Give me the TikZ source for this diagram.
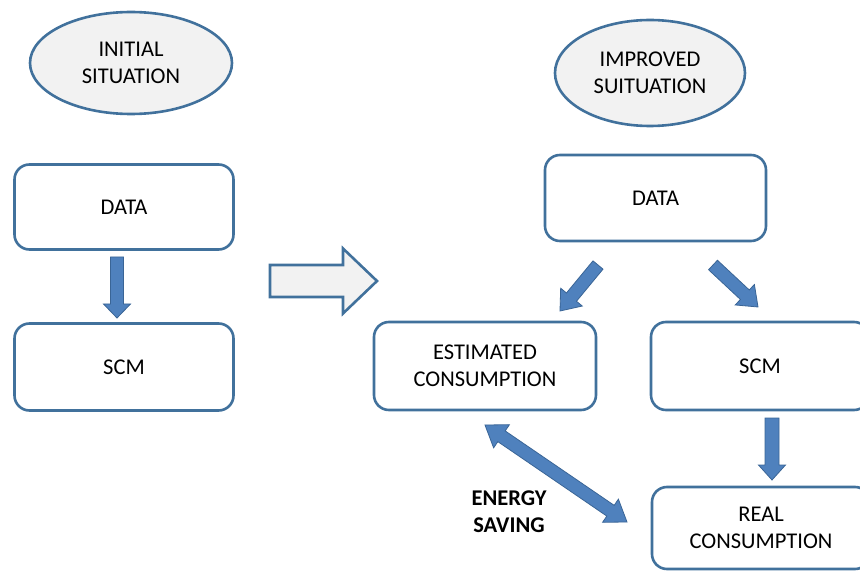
\documentclass[tikz,border=0pt]{standalone}
\usepackage{fontspec}
\setmainfont{Carlito}
\usetikzlibrary{calc,shapes.geometric}
\definecolor{boxline}{HTML}{41719C}
\definecolor{arrfill}{HTML}{4F81BD}
\definecolor{arrline}{HTML}{3A6596}
\definecolor{lightfill}{HTML}{F2F2F2}
\tikzset{
  txt/.style={font=\fontsize{22.5}{27}\selectfont, align=center, text=black},
  roundbox/.style={draw=boxline, line width=2.6pt, rounded corners=15pt, fill=white, txt},
  oval/.style={ellipse, draw=boxline, line width=2.6pt, fill=lightfill, txt, inner sep=0pt},
  blockarrow/.style={fill=arrfill, draw=arrline, line width=0.8pt, line join=miter},
  hollowarrow/.style={fill=lightfill, draw=boxline, line width=2.6pt, line join=miter}
}
% single block arrow: from, to, shaft half width, head half width, head length, style
\newcommand{\blockarr}[6]{%
  \coordinate (hb) at ($(#2)!#5!(#1)$);
  \path[#6] ($(#1)!#3!90:(#2)$) -- ($(hb)!#3!90:(#2)$) -- ($(hb)!#4!90:(#2)$) -- (#2)
    -- ($(hb)!#4!-90:(#2)$) -- ($(hb)!#3!-90:(#2)$) -- ($(#1)!#3!-90:(#2)$) -- cycle;}
% double block arrow
\newcommand{\dblockarr}[6]{%
  \coordinate (ha) at ($(#1)!#5!(#2)$);
  \coordinate (hb) at ($(#2)!#5!(#1)$);
  \path[#6] (#1) -- ($(ha)!#4!90:(#2)$) -- ($(ha)!#3!90:(#2)$) -- ($(hb)!#3!90:(#2)$)
    -- ($(hb)!#4!90:(#2)$) -- (#2) -- ($(hb)!#4!-90:(#2)$) -- ($(hb)!#3!-90:(#2)$)
    -- ($(ha)!#3!-90:(#2)$) -- ($(ha)!#4!-90:(#2)$) -- cycle;}
\begin{document}
\begin{tikzpicture}[x=1pt,y=-1pt]
\useasboundingbox (0,0) rectangle (860,572);
% ovals
\node[oval, minimum width=202pt, minimum height=102pt] (init) at (131,63) {INITIAL\\SITUATION};
\node[oval, minimum width=190pt, minimum height=106pt] (impr) at (650,73) {IMPROVED\\SUITUATION};
% left column
\node[roundbox, minimum width=219pt, minimum height=85pt] (dataL) at (124,207) {DATA};
\node[roundbox, minimum width=219pt, minimum height=87pt] (scmL) at (124,367) {SCM};
% right part
\node[roundbox, minimum width=221pt, minimum height=86pt] (dataR) at (655.5,198) {DATA};
\node[roundbox, minimum width=222pt, minimum height=88pt] (est) at (485,366) {ESTIMATED\\CONSUMPTION};
\node[roundbox, minimum width=218pt, minimum height=88pt] (scmR) at (760,366) {SCM};
\node[roundbox, minimum width=218pt, minimum height=82pt] (real) at (761,528) {REAL\\CONSUMPTION};
\node[txt, font=\fontsize{22.5}{27}\selectfont\bfseries] (energy) at (509,512) {ENERGY\\SAVING};
% arrow end points
\coordinate (a1s) at (117,257);
\coordinate (a1e) at (117,318);
\coordinate (bigs) at (270,281);
\coordinate (bige) at (377,281);
\coordinate (a2s) at (598,265);
\coordinate (a2e) at (560,311);
\coordinate (a3s) at (713,265);
\coordinate (a3e) at (758,307);
\coordinate (a4s) at (772,418);
\coordinate (a4e) at (772,480);
\coordinate (d1) at (485,425);
\coordinate (d2) at (627,522);
% arrows
\blockarr{a1s}{a1e}{6.5pt}{13.5pt}{14pt}{blockarrow}
\blockarr{bigs}{bige}{16pt}{32.5pt}{34pt}{hollowarrow}
\blockarr{a2s}{a2e}{6.5pt}{14pt}{18pt}{blockarrow}
\blockarr{a3s}{a3e}{6.5pt}{14pt}{18pt}{blockarrow}
\blockarr{a4s}{a4e}{7pt}{13.5pt}{15pt}{blockarrow}
\dblockarr{d1}{d2}{6.5pt}{14pt}{20pt}{blockarrow}
\end{tikzpicture}
\end{document}
